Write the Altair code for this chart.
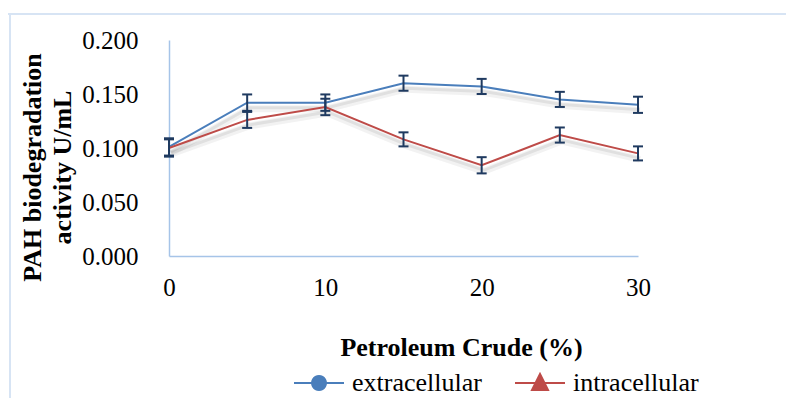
import math
import altair as alt
import pandas as pd

x_vals = [0, 5, 10, 15, 20, 25, 30]
extracellular = [0.101, 0.142, 0.142, 0.160, 0.157, 0.145, 0.140]
intracellular = [0.100, 0.126, 0.138, 0.108, 0.084, 0.112, 0.095]
err_extra = [0.008, 0.0076, 0.0076, 0.007, 0.007, 0.007, 0.0075]
err_intra = [0.008, 0.0074, 0.0076, 0.0065, 0.0075, 0.007, 0.0065]
series_names = ["extracellular", "intracellular"]
series_colors = ["#4A7EBB", "#BE4B48"]
x_ticks = [0, 10, 20, 30]
y_ticks = [0.0, 0.05, 0.10, 0.15, 0.20]

rows = []
for name, vals, errs in ((series_names[0], extracellular, err_extra),
                         (series_names[1], intracellular, err_intra)):
    for xv, v, e in zip(x_vals, vals, errs):
        rows.append({"x": xv, "y": v, "lo": v - e, "hi": v + e, "series": name})
df = pd.DataFrame(rows)

# legend glyphs: a short line with a marker in the middle (unit square -1..1)
r = 0.28
circ = "M-1,0L1,0M" + "L".join(
    f"{r*math.cos(2*math.pi*k/24):.3f},{r*math.sin(2*math.pi*k/24):.3f}" for k in range(24)) + "Z"
tri = "M-1,0L1,0M0,-0.36L0.32,0.28L-0.32,0.28Z"

navy = "#1F3A60"
xaxis = alt.Axis(values=x_ticks, title="Petroleum Crude (%)", labelPadding=19,
                 titleX=292, titleY=99, titleAlign="center", titleBaseline="alphabetic")
yaxis = alt.Axis(values=y_ticks, format=".3f", title=["PAH biodegradation", "activity U/mL"],
                 labelPadding=31, titleX=-129, titleY=127, titleAlign="center",
                 titleBaseline="alphabetic", titleLineHeight=30, titleAngle=270)
xsc = alt.Scale(domain=[0, 30], nice=False)
ysc = alt.Scale(domain=[0, 0.2], nice=False)

def X(f):
    return alt.X(f, type="quantitative", scale=xsc, axis=xaxis)

def Y(f):
    return alt.Y(f, type="quantitative", scale=ysc, axis=yaxis)

base = alt.Chart(df)

shadow1 = base.mark_line(color="#000000", opacity=0.05, strokeWidth=7, xOffset=2, yOffset=6).encode(
    x=X("x"), y=Y("y"), detail="series:N")
shadow2 = base.mark_line(color="#000000", opacity=0.07, strokeWidth=3, xOffset=2, yOffset=5).encode(
    x=X("x"), y=Y("y"), detail="series:N")

line_layers = []
for name, col in zip(series_names, series_colors):
    line_layers.append(
        base.transform_filter(alt.datum.series == name)
        .mark_line(strokeWidth=2, color=col)
        .encode(x=X("x"), y=Y("y"))
    )

rules = base.mark_rule(color=navy, strokeWidth=2).encode(x=X("x"), y=Y("lo"), y2="hi:Q")
caps_lo = base.mark_tick(orient="horizontal", size=10, thickness=2, color=navy, opacity=1).encode(
    x=X("x"), y=Y("lo"))
caps_hi = base.mark_tick(orient="horizontal", size=10, thickness=2, color=navy, opacity=1).encode(
    x=X("x"), y=Y("hi"))

leg = alt.Legend(title=None, orient="none", legendX=124, legendY=317, direction="horizontal",
                 symbolSize=2500, symbolStrokeWidth=2, labelFont="Liberation Serif",
                 labelFontSize=26, labelColor="black", labelOffset=7, columnPadding=29,
                 symbolOpacity=1)
legend_layer = base.mark_point(filled=True, opacity=0).encode(
    x=X("x"), y=Y("y"),
    fill=alt.Fill("series:N", scale=alt.Scale(domain=series_names, range=series_colors), legend=leg),
    stroke=alt.Stroke("series:N", scale=alt.Scale(domain=series_names, range=series_colors), legend=leg),
    shape=alt.Shape("series:N", scale=alt.Scale(domain=series_names, range=[circ, tri]), legend=leg),
)

frame = alt.Chart(pd.DataFrame({"k": [0]})).mark_rule(color="#D7E4F4", strokeWidth=2)
frame_top = frame.encode(x=alt.value(-161), x2=alt.value(620), y=alt.value(-26))
frame_left = frame.encode(x=alt.value(-159), y=alt.value(-26), y2=alt.value(360))

chart = alt.layer(
    frame_top, frame_left, shadow1, shadow2, *line_layers, rules, caps_lo, caps_hi, legend_layer
).properties(
    width=469, height=216,
    autosize=alt.AutoSizeParams(type="none"),
    padding={"left": 161, "top": 32, "right": 148, "bottom": 142},
    background="white",
).configure_view(stroke=None).configure_axis(
    grid=False, ticks=False, domainColor="#A6C4E8", domainWidth=1.5,
    labelFont="Liberation Serif", labelFontSize=25, labelColor="black",
    labelFlush=False, labelOverlap=False, labelBound=False,
    titleFont="Liberation Serif", titleFontSize=26, titleFontWeight="bold", titleColor="black",
)

chart.save("out.html", embed_options={"renderer": "svg", "actions": False})
